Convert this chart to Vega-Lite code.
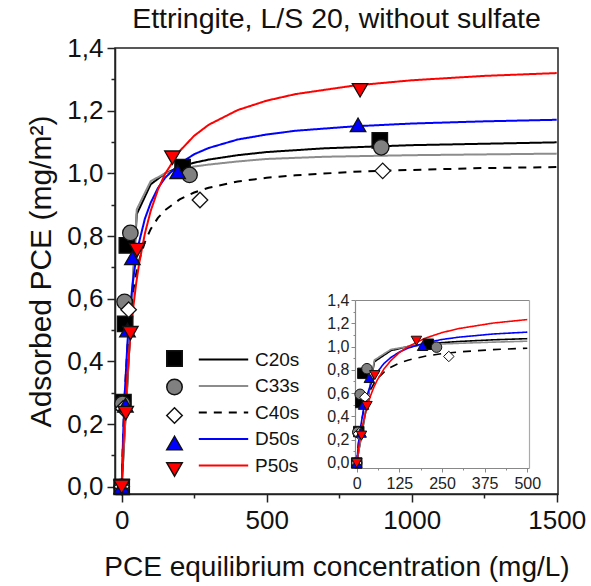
{
  "$schema": "https://vega.github.io/schema/vega-lite/v6.json",
  "width": 443,
  "height": 446,
  "autosize": "none",
  "padding": {"left": 115, "top": 48, "right": 33, "bottom": 92},
  "background": "white",
  "title": {"text": "Ettringite, L/S 20, without sulfate", "font": "Liberation Sans", "fontSize": 28.5, "fontWeight": "normal", "color": "#111", "anchor": "middle", "offset": 2},
  "config": {
    "view": {"stroke": "#222", "strokeWidth": 1.5},
    "axis": {"grid": false, "labelFont": "Liberation Sans", "titleFont": "Liberation Sans", "titleFontWeight": "normal", "labelColor": "#111", "titleColor": "#111", "labelOverlap": false, "labelFlush": false},
    "legend": {"labelFont": "Liberation Sans"}
  },
  "datasets": {
    "pts": [
      {"sample": "C20s", "c": 0, "q": 0}, {"sample": "C20s", "c": 6, "q": 0.27}, {"sample": "C20s", "c": 12, "q": 0.52}, {"sample": "C20s", "c": 18, "q": 0.77}, {"sample": "C20s", "c": 210, "q": 1.02}, {"sample": "C20s", "c": 890, "q": 1.105},
      {"sample": "C33s", "c": 0, "q": 0}, {"sample": "C33s", "c": 3, "q": 0.265}, {"sample": "C33s", "c": 10, "q": 0.59}, {"sample": "C33s", "c": 30, "q": 0.81}, {"sample": "C33s", "c": 234, "q": 0.995}, {"sample": "C33s", "c": 895, "q": 1.083},
      {"sample": "C40s", "c": 0, "q": 0}, {"sample": "C40s", "c": 5, "q": 0.25}, {"sample": "C40s", "c": 24, "q": 0.565}, {"sample": "C40s", "c": 270, "q": 0.915}, {"sample": "C40s", "c": 900, "q": 1.008},
      {"sample": "D50s", "c": 0, "q": 0}, {"sample": "D50s", "c": 13, "q": 0.26}, {"sample": "D50s", "c": 20, "q": 0.5}, {"sample": "D50s", "c": 37, "q": 0.73}, {"sample": "D50s", "c": 193, "q": 1.005}, {"sample": "D50s", "c": 815, "q": 1.155},
      {"sample": "P50s", "c": 0, "q": 0}, {"sample": "P50s", "c": 14, "q": 0.235}, {"sample": "P50s", "c": 30, "q": 0.49}, {"sample": "P50s", "c": 53, "q": 0.755}, {"sample": "P50s", "c": 175, "q": 1.05}, {"sample": "P50s", "c": 822, "q": 1.265}
    ],
    "fit": [
      {"series": "C20s", "c": 0, "q": 0}, {"series": "C20s", "c": 52, "q": 0.87}, {"series": "C20s", "c": 100, "q": 0.965}, {"series": "C20s", "c": 150, "q": 1.0}, {"series": "C20s", "c": 200, "q": 1.02}, {"series": "C20s", "c": 250, "q": 1.034}, {"series": "C20s", "c": 300, "q": 1.044}, {"series": "C20s", "c": 400, "q": 1.058}, {"series": "C20s", "c": 500, "q": 1.068}, {"series": "C20s", "c": 700, "q": 1.08}, {"series": "C20s", "c": 1000, "q": 1.09}, {"series": "C20s", "c": 1500, "q": 1.099},
      {"series": "C33s", "c": 0, "q": 0}, {"series": "C33s", "c": 52, "q": 0.885}, {"series": "C33s", "c": 100, "q": 0.975}, {"series": "C33s", "c": 150, "q": 1.0}, {"series": "C33s", "c": 200, "q": 1.013}, {"series": "C33s", "c": 250, "q": 1.022}, {"series": "C33s", "c": 300, "q": 1.028}, {"series": "C33s", "c": 400, "q": 1.038}, {"series": "C33s", "c": 500, "q": 1.046}, {"series": "C33s", "c": 700, "q": 1.053}, {"series": "C33s", "c": 1000, "q": 1.058}, {"series": "C33s", "c": 1500, "q": 1.063},
      {"series": "C40s", "c": 0, "q": 0}, {"series": "C40s", "c": 5, "q": 0.166}, {"series": "C40s", "c": 10, "q": 0.286}, {"series": "C40s", "c": 20, "q": 0.448}, {"series": "C40s", "c": 30, "q": 0.553}, {"series": "C40s", "c": 40, "q": 0.626}, {"series": "C40s", "c": 50, "q": 0.68}, {"series": "C40s", "c": 60, "q": 0.722}, {"series": "C40s", "c": 80, "q": 0.781}, {"series": "C40s", "c": 100, "q": 0.822}, {"series": "C40s", "c": 125, "q": 0.858}, {"series": "C40s", "c": 150, "q": 0.883}, {"series": "C40s", "c": 200, "q": 0.917}, {"series": "C40s", "c": 250, "q": 0.939}, {"series": "C40s", "c": 300, "q": 0.954}, {"series": "C40s", "c": 400, "q": 0.974}, {"series": "C40s", "c": 500, "q": 0.986}, {"series": "C40s", "c": 600, "q": 0.994}, {"series": "C40s", "c": 800, "q": 1.005}, {"series": "C40s", "c": 1000, "q": 1.011}, {"series": "C40s", "c": 1250, "q": 1.017}, {"series": "C40s", "c": 1500, "q": 1.02},
      {"series": "D50s", "c": 0, "q": 0}, {"series": "D50s", "c": 5, "q": 0.162}, {"series": "D50s", "c": 10, "q": 0.285}, {"series": "D50s", "c": 20, "q": 0.461}, {"series": "D50s", "c": 30, "q": 0.579}, {"series": "D50s", "c": 40, "q": 0.665}, {"series": "D50s", "c": 50, "q": 0.73}, {"series": "D50s", "c": 60, "q": 0.78}, {"series": "D50s", "c": 80, "q": 0.855}, {"series": "D50s", "c": 100, "q": 0.906}, {"series": "D50s", "c": 125, "q": 0.953}, {"series": "D50s", "c": 150, "q": 0.986}, {"series": "D50s", "c": 200, "q": 1.031}, {"series": "D50s", "c": 250, "q": 1.061}, {"series": "D50s", "c": 300, "q": 1.081}, {"series": "D50s", "c": 400, "q": 1.108}, {"series": "D50s", "c": 500, "q": 1.124}, {"series": "D50s", "c": 600, "q": 1.136}, {"series": "D50s", "c": 800, "q": 1.15}, {"series": "D50s", "c": 1000, "q": 1.159}, {"series": "D50s", "c": 1250, "q": 1.166}, {"series": "D50s", "c": 1500, "q": 1.171},
      {"series": "P50s", "c": 0, "q": 0}, {"series": "P50s", "c": 5, "q": 0.113}, {"series": "P50s", "c": 10, "q": 0.209}, {"series": "P50s", "c": 20, "q": 0.362}, {"series": "P50s", "c": 30, "q": 0.48}, {"series": "P50s", "c": 40, "q": 0.573}, {"series": "P50s", "c": 50, "q": 0.649}, {"series": "P50s", "c": 60, "q": 0.711}, {"series": "P50s", "c": 80, "q": 0.808}, {"series": "P50s", "c": 100, "q": 0.88}, {"series": "P50s", "c": 125, "q": 0.948}, {"series": "P50s", "c": 150, "q": 0.999}, {"series": "P50s", "c": 200, "q": 1.071}, {"series": "P50s", "c": 250, "q": 1.12}, {"series": "P50s", "c": 300, "q": 1.155}, {"series": "P50s", "c": 400, "q": 1.202}, {"series": "P50s", "c": 500, "q": 1.232}, {"series": "P50s", "c": 600, "q": 1.253}, {"series": "P50s", "c": 800, "q": 1.28}, {"series": "P50s", "c": 1000, "q": 1.297}, {"series": "P50s", "c": 1250, "q": 1.311}, {"series": "P50s", "c": 1500, "q": 1.32}
    ]
  },
  "layer": [
    {
      "layer": [
        {
          "data": {"name": "fit"},
          "mark": {"type": "line", "strokeWidth": 2, "interpolate": "linear"},
          "encoding": {
            "x": {"field": "c", "type": "quantitative", "scale": {"domain": [-23, 1504.5], "nice": false, "zero": false},
              "axis": {"orient": "bottom", "values": [0, 250, 500, 750, 1000, 1250, 1500], "labelExpr": "datum.value % 500 == 0 ? format(datum.value, 'd') : ''", "tickSize": {"condition": {"test": "datum.value % 500 != 0", "value": 4}, "value": 8}, "tickColor": "#222", "tickWidth": 1.5, "domainColor": "#222", "domainWidth": 1.5, "labelFontSize": 26, "labelPadding": 5, "title": "PCE equilibrium concentration (mg/L)", "titleFontSize": 28, "titlePadding": 20}},
            "y": {"field": "q", "type": "quantitative", "scale": {"domain": [-0.023, 1.4], "nice": false, "zero": false},
              "axis": {"orient": "left", "values": [0, 0.1, 0.2, 0.3, 0.4, 0.5, 0.6, 0.7, 0.8, 0.9, 1.0, 1.1, 1.2, 1.3, 1.4], "labelExpr": "round(datum.value * 10) % 2 == 1 ? '' : replace(format(datum.value, '.1f'), '.', ',')", "tickSize": {"condition": {"test": "round(datum.value * 10) % 2 == 1", "value": 4}, "value": 8}, "tickColor": "#222", "tickWidth": 1.5, "domainColor": "#222", "domainWidth": 1.5, "labelFontSize": 26, "labelPadding": 4, "title": "Adsorbed PCE (mg/m²)", "titleFontSize": 30, "titlePadding": 10}},
            "stroke": {"field": "series", "type": "nominal", "scale": {"range": ["#000000", "#8c8c8c", "#000000", "#0000ff", "#ff0000"]},
              "legend": {"orient": "none", "legendX": 98, "legendY": 301, "title": null, "symbolType": "M-2.6,0H2.6", "symbolSize": 361, "symbolStrokeWidth": 2, "labelFontSize": 19, "labelColor": "#111", "labelOffset": 21, "rowPadding": 5.5, "padding": 0}},
            "strokeDash": {"field": "series", "type": "nominal", "scale": {"range": [[1, 0], [1, 0], [8, 7], [1, 0], [1, 0]]},
              "legend": {"orient": "none", "legendX": 98, "legendY": 301, "title": null, "symbolType": "M-2.6,0H2.6", "symbolSize": 361, "symbolStrokeWidth": 2, "labelFontSize": 19, "labelColor": "#111", "labelOffset": 21, "rowPadding": 5.5, "padding": 0}}
          }
        },
        {
          "data": {"name": "pts"},
          "mark": {"type": "point", "filled": true, "opacity": 1, "size": 240, "stroke": "#111", "strokeWidth": 1.3},
          "encoding": {
            "x": {"field": "c", "type": "quantitative", "scale": {"domain": [-23, 1504.5], "nice": false, "zero": false},
              "axis": {"orient": "bottom", "values": [0, 250, 500, 750, 1000, 1250, 1500], "labelExpr": "datum.value % 500 == 0 ? format(datum.value, 'd') : ''", "tickSize": {"condition": {"test": "datum.value % 500 != 0", "value": 4}, "value": 8}, "tickColor": "#222", "tickWidth": 1.5, "domainColor": "#222", "domainWidth": 1.5, "labelFontSize": 26, "labelPadding": 5, "title": "PCE equilibrium concentration (mg/L)", "titleFontSize": 28, "titlePadding": 20}},
            "y": {"field": "q", "type": "quantitative", "scale": {"domain": [-0.023, 1.4], "nice": false, "zero": false},
              "axis": {"orient": "left", "values": [0, 0.1, 0.2, 0.3, 0.4, 0.5, 0.6, 0.7, 0.8, 0.9, 1.0, 1.1, 1.2, 1.3, 1.4], "labelExpr": "round(datum.value * 10) % 2 == 1 ? '' : replace(format(datum.value, '.1f'), '.', ',')", "tickSize": {"condition": {"test": "round(datum.value * 10) % 2 == 1", "value": 4}, "value": 8}, "tickColor": "#222", "tickWidth": 1.5, "domainColor": "#222", "domainWidth": 1.5, "labelFontSize": 26, "labelPadding": 4, "title": "Adsorbed PCE (mg/m²)", "titleFontSize": 30, "titlePadding": 10}},
            "fill": {"field": "sample", "type": "nominal", "scale": {"range": ["#000000", "#808080", "#ffffff", "#0000ff", "#ff0000"]},
              "legend": {"orient": "none", "legendX": 50, "legendY": 301, "title": null, "symbolSize": 240, "labelExpr": "''", "labelFontSize": 19, "rowPadding": 5.5, "padding": 0,
                "encode": {"symbols": {"update": {"stroke": {"value": "#111"}, "strokeWidth": {"value": 1.3}}}}}},
            "shape": {"field": "sample", "type": "nominal", "scale": {"range": ["square", "circle", "diamond", "triangle-up", "triangle-down"]},
              "legend": {"orient": "none", "legendX": 50, "legendY": 301, "title": null, "symbolSize": 240, "labelExpr": "''", "labelFontSize": 19, "rowPadding": 5.5, "padding": 0,
                "encode": {"symbols": {"update": {"stroke": {"value": "#111"}, "strokeWidth": {"value": 1.3}}}}}}
          }
        }
      ]
    },
    {
      "layer": [
        {
          "data": {"name": "fit"},
          "transform": [{"filter": "datum.c <= 500"}],
          "mark": {"type": "line", "strokeWidth": 1.6},
          "encoding": {
            "x": {"field": "c", "type": "quantitative", "scale": {"domain": [-5, 505], "range": [240, 414], "nice": false, "zero": false},
              "axis": {"orient": "bottom", "offset": -26, "values": [0, 62.5, 125, 187.5, 250, 312.5, 375, 437.5, 500], "labelExpr": "datum.value % 125 == 0 ? format(datum.value, 'd') : ''", "tickSize": {"condition": {"test": "datum.value % 125 != 0", "value": 2}, "value": 4}, "tickColor": "#888", "tickWidth": 1, "domainColor": "#888", "domainWidth": 1.2, "labelFontSize": 16, "labelColor": "#222", "labelPadding": 3, "title": null}},
            "y": {"field": "q", "type": "quantitative", "scale": {"domain": [-0.043, 1.4], "range": [420, 252], "nice": false, "zero": false},
              "axis": {"orient": "left", "offset": -240, "values": [0, 0.1, 0.2, 0.3, 0.4, 0.5, 0.6, 0.7, 0.8, 0.9, 1.0, 1.1, 1.2, 1.3, 1.4], "labelExpr": "round(datum.value * 10) % 2 == 1 ? '' : replace(format(datum.value, '.1f'), '.', ',')", "tickSize": {"condition": {"test": "round(datum.value * 10) % 2 == 1", "value": 2}, "value": 4}, "tickColor": "#888", "tickWidth": 1, "domainColor": "#888", "domainWidth": 1.2, "labelFontSize": 16, "labelColor": "#222", "labelPadding": 2, "title": null}},
            "stroke": {"field": "series", "type": "nominal", "legend": null},
            "strokeDash": {"field": "series", "type": "nominal", "legend": null}
          }
        },
        {
          "data": {"name": "pts"},
          "transform": [{"filter": "datum.c <= 500"}],
          "mark": {"type": "point", "filled": true, "opacity": 1, "size": 110, "stroke": "#111", "strokeWidth": 1},
          "encoding": {
            "x": {"field": "c", "type": "quantitative", "scale": {"domain": [-5, 505], "range": [240, 414], "nice": false, "zero": false}, "axis": null},
            "y": {"field": "q", "type": "quantitative", "scale": {"domain": [-0.043, 1.4], "range": [420, 252], "nice": false, "zero": false}, "axis": null},
            "fill": {"field": "sample", "type": "nominal", "legend": null},
            "shape": {"field": "sample", "type": "nominal", "legend": null}
          }
        },
        {
          "data": {"name": "pts"},
          "transform": [{"filter": "datum.c <= 500"}],
          "mark": {"type": "point", "opacity": 0},
          "encoding": {
            "x": {"field": "c", "type": "quantitative", "scale": {"domain": [-5, 505], "range": [240, 414], "nice": false, "zero": false},
              "axis": {"orient": "top", "offset": -252, "labels": false, "ticks": false, "domainColor": "#888", "domainWidth": 1.2, "title": null}},
            "y": {"field": "q", "type": "quantitative", "scale": {"domain": [-0.043, 1.4], "range": [420, 252], "nice": false, "zero": false},
              "axis": {"orient": "right", "offset": -29, "labels": false, "ticks": false, "domainColor": "#aaa", "domainWidth": 1.2, "title": null}}
          }
        }
      ],
      "resolve": {"axis": {"x": "independent", "y": "independent"}}
    }
  ],
  "resolve": {"scale": {"x": "independent", "y": "independent"}, "axis": {"x": "independent", "y": "independent"}}
}
